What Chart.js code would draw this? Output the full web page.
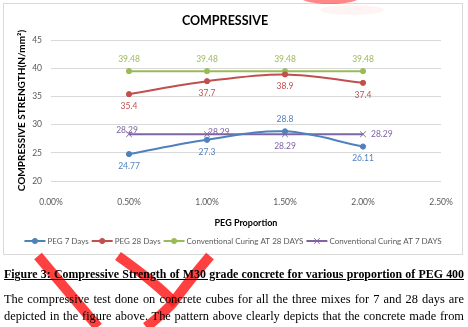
<!DOCTYPE html>
<html>
<head>
<meta charset="utf-8">
<script src="https://cdn.jsdelivr.net/npm/chart.js@4.4.0/dist/chart.umd.min.js"></script>
<style>
    body { margin: 0; width: 468px; height: 327px; background: #fff; position: relative; overflow: hidden; }
    #chartBox { position: absolute; left: 3px; top: 3px; width: 458px; height: 250px; border: 1px solid #d9d9d9; background: #fff; }
    #chartBox canvas { display: block; }
    .doc { position: absolute; left: 4px; width: 460px; font-family: "Times New Roman", "Liberation Serif", serif; color: #000; white-space: nowrap; }
    .caption { top: 267px; font-size: 11.9px; font-weight: bold; text-decoration: underline; text-align: justify; text-align-last: justify; }
    .line { font-size: 12.4px; text-align: justify; text-align-last: justify; }
    #mark { position: absolute; left: 0; top: 0; pointer-events: none; }
</style>
</head>
<body>
<div id="chartBox"><canvas id="chart" width="458" height="250"></canvas></div>
<svg id="mark" width="468" height="327">
    <ellipse cx="330" cy="-3" rx="30" ry="7" fill="rgba(255,70,70,0.65)"/>
    <ellipse cx="352" cy="10" rx="32" ry="5" fill="rgba(255,120,120,0.08)"/>
    <g fill="none" stroke="rgba(255,30,30,0.85)" stroke-linecap="butt">
        <path d="M38 256 L98 327" stroke-width="10"/>
        <path d="M118 256 Q155 282 176 304" stroke-width="10"/>
        <path d="M210 256 Q188 282 172 304 Q156 320 146 327" stroke-width="10"/>
    </g>
</svg>
<div class="doc caption">Figure 3: Compressive Strength of M30 grade concrete for various proportion of PEG 400</div>
<div class="doc line" style="top:292px">The compressive test done on concrete cubes for all the three mixes for 7 and 28 days are</div>
<div class="doc line" style="top:309px">depicted in the figure above. The pattern above clearly depicts that the concrete made from</div>
<script>
    // Chart data
    const pegProportion = [0.005, 0.01, 0.015, 0.02];
    const xTicks = [0, 0.005, 0.01, 0.015, 0.02, 0.025];
    const peg7Days = [24.77, 27.3, 28.8, 26.11];
    const peg28Days = [35.4, 37.7, 38.9, 37.4];
    const conv28Days = [39.48, 39.48, 39.48, 39.48];
    const conv7Days = [28.29, 28.29, 28.29, 28.29];
    const seriesNames = ['PEG 7 Days', 'PEG 28 Days', 'Conventional Curing AT 28 DAYS', 'Conventional Curing AT 7 DAYS'];

    // where each value label sits relative to its point
    const labelSides = [
        ['below', 'below', 'above', 'below'],
        ['below', 'below', 'below', 'below'],
        ['above', 'above', 'above', 'above'],
        ['center', 'near', 'below', 'right']
    ];

    const FONT = 'Lato, "Open Sans", sans-serif';
    const colors = ['#4f81bd', '#c0504d', '#9bbb59', '#8064a2'];

    function toPoints(values) {
        return values.map((v, i) => ({ x: pegProportion[i], y: v }));
    }

    function makeSet(i, values, style) {
        return {
            label: seriesNames[i],
            data: toPoints(values),
            borderColor: colors[i],
            backgroundColor: colors[i],
            borderWidth: 2,
            pointStyle: style,
            pointRadius: style === 'crossRot' ? 4 : 2.6,
            pointBorderWidth: 1,
            tension: i < 2 ? 0.35 : 0,
            fill: false
        };
    }

    // Value labels next to each point
    const valueLabels = {
        id: 'valueLabels',
        afterDatasetsDraw(chart) {
            const ctx = chart.ctx;
            ctx.save();
            ctx.font = '8.5px ' + FONT;
            chart.data.datasets.forEach((ds, di) => {
                const meta = chart.getDatasetMeta(di);
                ctx.fillStyle = colors[di];
                meta.data.forEach((pt, pi) => {
                    const text = String(ds.data[pi].y);
                    const side = labelSides[di][pi];
                    let x = pt.x, y = pt.y;
                    ctx.textAlign = 'center';
                    ctx.textBaseline = 'middle';
                    if (side === 'above') y -= 12;
                    else if (side === 'below') y += 12;
                    else if (side === 'right') { x += 8; ctx.textAlign = 'left'; }
                    else if (side === 'near') { x += 1; y -= 2; ctx.textAlign = 'left'; }
                    else if (side === 'center') { x -= 2; y -= 4; }
                    ctx.fillText(text, x, y);
                });
            });
            ctx.restore();
        }
    };

    // Excel style legend: line with marker, then name
    const lineLegend = {
        id: 'lineLegend',
        afterDraw(chart) {
            const ctx = chart.ctx;
            ctx.save();
            ctx.font = '8px ' + FONT;
            ctx.textBaseline = 'middle';
            const lineW = 21, gap = 2, itemGap = 3;
            const widths = seriesNames.map(n => lineW + gap + ctx.measureText(n).width);
            const total = widths.reduce((a, b) => a + b, 0) + itemGap * (widths.length - 1);
            let x = (chart.width - total) / 2;
            const y = 237;
            chart.data.datasets.forEach((ds, i) => {
                ctx.strokeStyle = colors[i];
                ctx.fillStyle = colors[i];
                ctx.lineWidth = 2;
                ctx.beginPath();
                ctx.moveTo(x, y);
                ctx.lineTo(x + lineW, y);
                ctx.stroke();
                ctx.lineWidth = 1;
                Chart.helpers.drawPoint(ctx, {
                    pointStyle: ds.pointStyle,
                    radius: ds.pointRadius,
                    borderWidth: 1
                }, x + lineW / 2, y);
                ctx.fillStyle = '#595959';
                ctx.fillText(seriesNames[i], x + lineW + gap, y);
                x += widths[i] + itemGap;
            });
            ctx.restore();
        }
    };

    const ctx = document.getElementById('chart').getContext('2d');
    new Chart(ctx, {
        type: 'line',
        data: {
            datasets: [
                makeSet(0, peg7Days, 'circle'),
                makeSet(1, peg28Days, 'circle'),
                makeSet(2, conv28Days, 'circle'),
                makeSet(3, conv7Days, 'crossRot')
            ]
        },
        options: {
            responsive: false,
            animation: false,
            devicePixelRatio: 1,
            layout: { padding: { left: 5, right: 21, top: 0, bottom: 26 } },
            plugins: {
                legend: { display: false },
                tooltip: { enabled: false },
                title: {
                    display: true,
                    text: 'COMPRESSIVE',
                    color: '#000',
                    font: { family: FONT, size: 12.5, weight: 'bold' },
                    padding: { top: 9, bottom: 12 }
                }
            },
            scales: {
                x: {
                    type: 'linear',
                    min: 0,
                    max: 0.025,
                    afterBuildTicks: s => { s.ticks = xTicks.map(v => ({ value: v })); },
                    grid: { display: false },
                    border: { display: false },
                    ticks: {
                        color: '#595959',
                        font: { family: FONT, size: 8.5 },
                        padding: 8,
                        maxRotation: 0,
                        callback: v => (v * 100).toFixed(2) + '%'
                    },
                    title: {
                        display: true,
                        text: 'PEG Proportion',
                        color: '#000',
                        font: { family: FONT, size: 9, weight: 'bold' },
                        padding: { top: 2, bottom: 0 }
                    }
                },
                y: {
                    min: 20,
                    max: 45,
                    afterFit: s => { s.width = 42; },
                    grid: { color: '#d9d9d9', drawTicks: false },
                    border: { display: false },
                    ticks: {
                        stepSize: 5,
                        color: '#595959',
                        font: { family: FONT, size: 8.5 },
                        padding: 9
                    },
                    title: {
                        display: true,
                        text: 'COMPRESSIVE STRENGTH(N/mm²)',
                        color: '#000',
                        font: { family: FONT, size: 10, weight: 'bold' },
                        padding: { top: 7, bottom: 0 }
                    }
                }
            }
        },
        plugins: [valueLabels, lineLegend]
    });
</script>
</body>
</html>
